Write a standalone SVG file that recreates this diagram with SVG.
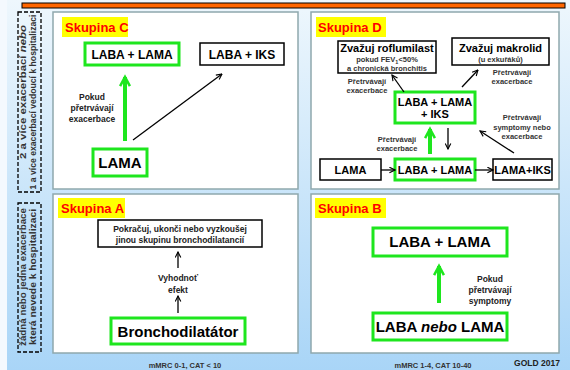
<svg xmlns="http://www.w3.org/2000/svg" width="570" height="370" viewBox="0 0 570 370">
<defs>
<linearGradient id="bg" x1="0" y1="0" x2="0" y2="1">
<stop offset="0" stop-color="#eef7fd"/>
<stop offset="1" stop-color="#a9d5f7"/>
</linearGradient>
<marker id="ah" viewBox="0 0 10 10" refX="9" refY="5" markerWidth="7" markerHeight="7" orient="auto" markerUnits="userSpaceOnUse">
<path d="M1,1 L9,5 L1,9" fill="none" stroke="#000" stroke-width="1.6"/>
</marker>
<marker id="gh" viewBox="0 0 10 10" refX="8" refY="5" markerWidth="14" markerHeight="14" orient="auto" markerUnits="userSpaceOnUse">
<path d="M1.5,1.5 L8,5 L1.5,8.5" fill="none" stroke="#1ee61e" stroke-width="1.8"/>
</marker>
</defs>
<style>
text{font-family:"Liberation Sans",Arial,sans-serif;font-weight:bold;}
.panel{fill:#fff;stroke:#8fa8ad;stroke-width:1.5;}
.sk{fill:#ffff00;}
.skt{fill:#ff0000;font-size:13px;}
.gb{fill:#fff;stroke:#1ee61e;stroke-width:3;}
.bb{fill:#fff;stroke:#000;stroke-width:1.5;}
.t12{font-size:12px;fill:#000;text-anchor:middle;}
.t11{font-size:11px;fill:#000;text-anchor:middle;}
.t15{font-size:15px;fill:#000;text-anchor:middle;}
.t9{font-size:8.5px;fill:#222;text-anchor:middle;}
.t7{font-size:7.5px;fill:#333;text-anchor:middle;}
.side{font-size:8.5px;fill:#333;text-anchor:middle;}
.dash{fill:none;stroke:#000;stroke-width:1.3;stroke-dasharray:4,2;}
.ga{stroke:#1ee61e;stroke-width:4;fill:none;marker-end:url(#gh);}
.ba{stroke:#000;stroke-width:1.3;fill:none;marker-end:url(#ah);}
</style>
<rect x="0" y="0" width="570" height="370" fill="#f4f9fe"/>
<rect x="7" y="0" width="563" height="370" fill="url(#bg)"/>
<rect x="22" y="3" width="543" height="5" fill="#ff6600" stroke="#000" stroke-width="1"/>

<g id="side-top">
<rect class="dash" x="18" y="12" width="23" height="180"/>
<text class="side" transform="translate(26,92) rotate(-90)" textLength="134" lengthAdjust="spacingAndGlyphs">2 a více exacerbací <tspan font-style="italic">nebo</tspan></text>
<text class="side" transform="translate(36,102) rotate(-90)" textLength="175" lengthAdjust="spacingAndGlyphs">1 a více exacerbací vedoucí k hospitalizaci</text>
</g>
<g id="side-bottom">
<rect class="dash" x="18" y="203" width="23" height="149"/>
<text class="side" transform="translate(26,277) rotate(-90)" textLength="138" lengthAdjust="spacingAndGlyphs">žádná nebo jedna exacerbace</text>
<text class="side" transform="translate(36,277) rotate(-90)" textLength="136" lengthAdjust="spacingAndGlyphs">která nevede k hospitalizaci</text>
</g>

<g id="panel-c">
<rect class="panel" x="53" y="12" width="245" height="177"/>
<rect class="sk" x="62" y="17" width="66" height="20"/>
<text class="skt" x="65" y="32">Skupina C</text>
</g>
<g id="panel-d">
<rect class="panel" x="311" y="12" width="248" height="177"/>
<rect class="sk" x="316" y="17" width="70" height="20"/>
<text class="skt" x="318" y="32">Skupina D</text>
</g>
<g id="panel-a">
<rect class="panel" x="53" y="194" width="245" height="159"/>
<rect class="sk" x="58" y="198" width="67" height="20"/>
<text class="skt" x="61" y="213">Skupina A</text>
</g>
<g id="panel-b">
<rect class="panel" x="311" y="194" width="248" height="159"/>
<rect class="sk" x="315" y="198" width="71" height="20"/>
<text class="skt" x="318" y="213">Skupina B</text>
</g>

<g id="c-laba-lama"><rect class="gb" x="85" y="43" width="94" height="22"/><text class="t12" x="132" y="58.5">LABA + LAMA</text></g>
<g id="c-laba-iks"><rect class="bb" x="200" y="43" width="84" height="22"/><text class="t12" x="242" y="58.5">LABA + IKS</text></g>
<g id="c-lama"><rect class="gb" x="93" y="149" width="54" height="27"/><text class="t15" x="120" y="168">LAMA</text></g>

<g id="d-roflumilast"><rect class="bb" x="338" y="41" width="98" height="32"/>
<text class="t11" x="387" y="51.5">Zvažuj roflumilast</text>
<text class="t7" x="387" y="62">pokud FEV<tspan font-size="5.5" dy="2">1</tspan><tspan dy="-2">&lt;50%</tspan></text>
<text class="t7" x="387" y="71">a chronická bronchitis</text></g>
<g id="d-makrolid"><rect class="bb" x="452" y="38" width="97" height="27"/>
<text class="t11" x="500.5" y="52">Zvažuj makrolid</text>
<text class="t7" x="500.5" y="62">(u exkuřáků)</text></g>
<g id="d-triple"><rect class="gb" x="395" y="92" width="80" height="31"/>
<text class="t11" x="435" y="105.5">LABA + LAMA</text>
<text class="t11" x="435" y="118">+ IKS</text></g>
<g id="d-lama"><rect class="bb" x="320" y="159" width="61" height="21"/><text class="t11" x="350.5" y="173.5">LAMA</text></g>
<g id="d-laba-lama"><rect class="gb" x="395" y="159" width="80" height="21"/><text class="t11" x="435" y="173.5">LABA + LAMA</text></g>
<g id="d-lama-iks"><rect class="bb" x="493" y="159" width="59" height="21"/><text class="t11" x="522.5" y="173.5">LAMA+IKS</text></g>

<g id="a-pokracuj"><rect class="bb" x="98" y="220" width="164" height="27"/>
<text class="t9" x="180" y="232">Pokračuj, ukonči nebo vyzkoušej</text>
<text class="t9" x="180" y="243">jinou skupinu bronchodilatancií</text></g>
<g id="a-bronch"><rect class="gb" x="111" y="318" width="134" height="26"/><text class="t15" x="178" y="337">Bronchodilatátor</text></g>

<g id="b-laba-lama"><rect class="gb" x="373" y="228" width="134" height="28"/><text class="t15" x="440" y="247">LABA + LAMA</text></g>
<g id="b-laba-nebo-lama"><rect class="gb" x="373" y="313" width="134" height="27"/><text class="t15" x="440" y="332">LABA <tspan font-style="italic">nebo</tspan> LAMA</text></g>

<g id="connectors">
<line class="ga" x1="125" y1="141" x2="125" y2="77"/>
<line class="ba" x1="133" y1="140" x2="222" y2="74"/>
<line class="ba" x1="178" y1="268" x2="178" y2="252"/>
<line class="ba" x1="178" y1="313" x2="178" y2="296"/>
<line class="ga" x1="439" y1="303" x2="439" y2="266"/>
<line class="ba" x1="381" y1="170" x2="395" y2="170"/>
<line class="ba" x1="475" y1="170" x2="493" y2="170"/>
<line class="ga" x1="430" y1="154" x2="430" y2="129"/>
<line class="ba" x1="448" y1="128" x2="448" y2="149"/>
<line class="ba" x1="514" y1="153" x2="480" y2="131"/>
<line class="ba" x1="404" y1="92" x2="392" y2="75"/>
<line class="ba" x1="462" y1="87" x2="478" y2="70"/>
</g>

<g id="labels">
<text class="t9" x="92" y="100">Pokud</text>
<text class="t9" x="92" y="111">přetrvávají</text>
<text class="t9" x="92" y="122">exacerbace</text>
<text class="t7" x="367" y="84">Přetrvávají</text>
<text class="t7" x="367" y="93">exacerbace</text>
<text class="t7" x="512" y="75">Přetrvávají</text>
<text class="t7" x="512" y="84">exacerbace</text>
<text class="t7" x="522" y="120">Přetrvávají</text>
<text class="t7" x="522" y="130">symptomy nebo</text>
<text class="t7" x="522" y="139">exacerbace</text>
<text class="t7" x="397" y="142">Přetrvávají</text>
<text class="t7" x="397" y="151">exacerbace</text>
<text class="t9" x="178" y="281">Vyhodnoť</text>
<text class="t9" x="178" y="293">efekt</text>
<text class="t9" x="490" y="282">Pokud</text>
<text class="t9" x="490" y="293">přetrvávají</text>
<text class="t9" x="490" y="304">symptomy</text>
<text class="t7" x="185" y="368">mMRC 0-1, CAT &lt; 10</text>
<text class="t7" x="433" y="368">mMRC 1-4, CAT 10-40</text>
<text class="t9" x="537" y="366" font-size="9">GOLD 2017</text>
</g>
</svg>
